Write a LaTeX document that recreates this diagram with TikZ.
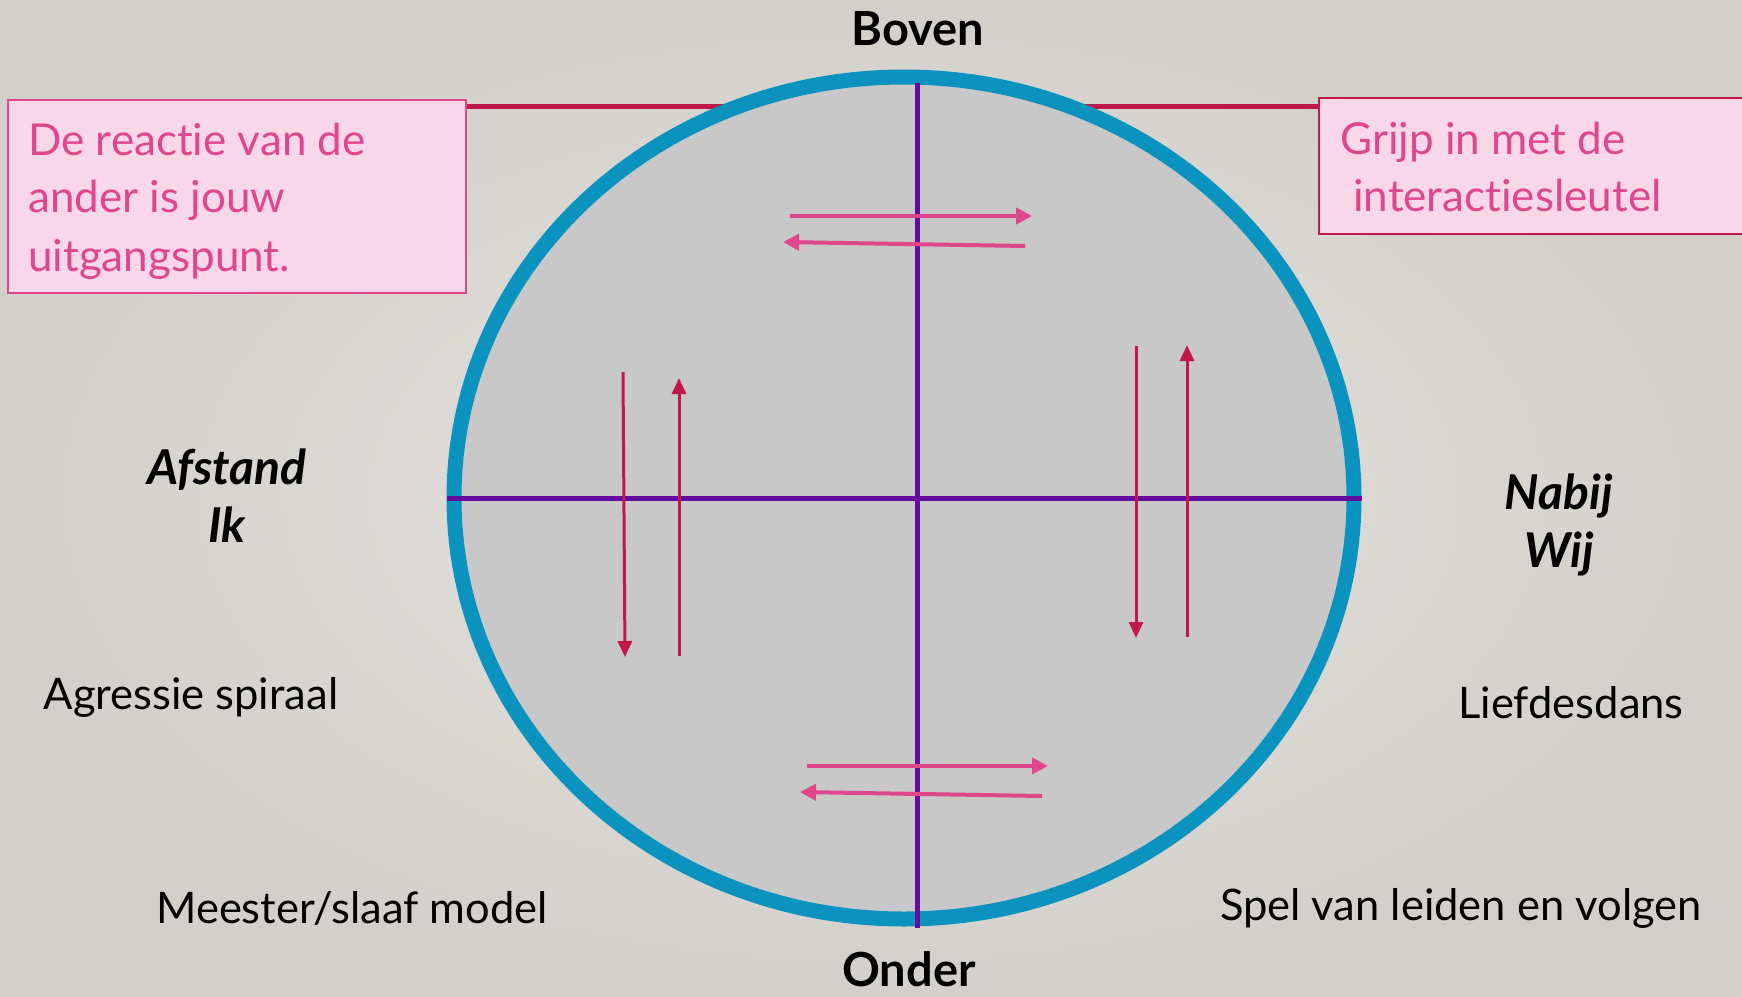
\documentclass[tikz,border=0pt]{standalone}
\usepackage{fontspec}
\setmainfont{Lato}[Ligatures={NoCommon}]
\usetikzlibrary{arrows.meta}
\definecolor{bgin}{HTML}{E6E4E1}
\definecolor{bgout}{HTML}{D3D0CB}
\definecolor{ringblue}{HTML}{0A93BF}
\definecolor{discgrey}{HTML}{C8C8C8}
\definecolor{axispurple}{HTML}{650CA0}
\definecolor{crimson}{HTML}{C0184A}
\definecolor{pinktext}{HTML}{E0468C}
\definecolor{pinkfill}{HTML}{F8D8E8}
\tikzset{
  boxtxt/.style={anchor=base west, inner sep=0pt, text=pinktext, font=\fontsize{44}{52}\selectfont},
  lbl/.style={anchor=base, inner sep=0pt, text=black, font=\fontsize{43.5}{50}\selectfont},
  dirlbl/.style={anchor=base, inner sep=0pt, text=black, font=\fontsize{47}{54}\selectfont\bfseries},
  sidelbl/.style={anchor=base, inner sep=0pt, text=black, font=\fontsize{48}{56}\selectfont\bfseries\itshape},
  pinkarrow/.style={draw=pinktext, line width=4pt, -{Triangle[length=16pt,width=16pt]}},
  redarrow/.style={draw=crimson, line width=3pt, -{Triangle[length=16pt,width=14pt]}},
  axis/.style={draw=axispurple, line width=5pt},
}
\begin{document}
\begin{tikzpicture}[x=1pt,y=-1pt]
\useasboundingbox (0,0) rectangle (1742,996);
\shade[inner color=bgin, outer color=bgout] (0,0) rectangle (1742,996);
% connecting line behind circle
\coordinate (lineL) at (465,106);
\coordinate (lineR) at (1318,106);
\draw[crimson, line width=5pt] (lineL) -- (lineR);
% disc
\coordinate (c) at (904,498);
\draw[fill=discgrey, draw=ringblue, line width=15pt] (c) ellipse [x radius=450, y radius=421];
% axes
\coordinate (vt) at (917,83);
\coordinate (vb) at (917,928);
\coordinate (hl) at (447,498);
\coordinate (hr) at (1362,498);
\draw[axis] (vt) -- (vb);
\draw[axis] (hl) -- (hr);
% top arrows
\coordinate (t1a) at (790,216);
\coordinate (t1b) at (1032,216);
\coordinate (t2a) at (1025,246);
\coordinate (t2b) at (783,242);
\draw[pinkarrow] (t1a) -- (t1b);
\draw[pinkarrow] (t2a) -- (t2b);
% bottom arrows
\coordinate (b1a) at (807,766);
\coordinate (b1b) at (1048,766);
\coordinate (b2a) at (1042,796);
\coordinate (b2b) at (800,792);
\draw[pinkarrow] (b1a) -- (b1b);
\draw[pinkarrow] (b2a) -- (b2b);
% left vertical arrows
\coordinate (l1a) at (623,372);
\coordinate (l1b) at (625,657);
\coordinate (l2a) at (679,656);
\coordinate (l2b) at (679,378);
\draw[redarrow] (l1a) -- (l1b);
\draw[redarrow] (l2a) -- (l2b);
% right vertical arrows
\coordinate (r1a) at (1136,346);
\coordinate (r1b) at (1136,638);
\coordinate (r2a) at (1187,637);
\coordinate (r2b) at (1187,345);
\draw[redarrow] (r1a) -- (r1b);
\draw[redarrow] (r2a) -- (r2b);
% boxes
\node[draw=pinktext, fill=pinkfill, line width=2pt, anchor=north west, minimum width=458pt, minimum height=193pt, inner sep=0pt] (boxL) at (7,99) {};
\node[draw=crimson, fill=pinkfill, line width=2pt, anchor=north west, minimum width=440pt, minimum height=136pt, inner sep=0pt] (boxR) at (1318,97) {};
\node[boxtxt] (bl1) at (28,155) {De reactie van de};
\node[boxtxt] (bl2) at (28,212) {ander is jouw};
\node[boxtxt] (bl3) at (28,271) {uitgangspunt.};
\node[boxtxt] (br1) at (1340,154) {Grijp in met de};
\node[boxtxt] (br2) at (1353,211) {interactiesleutel};
% direction labels
\node[dirlbl] (boven) at (918,45) {Boven};
\node[dirlbl] (onder) at (909,986) {Onder};
\node[sidelbl] (afstand) at (227,484) {Afstand};
\node[sidelbl] (ik) at (227,542) {Ik};
\node[sidelbl] (nabij) at (1559,509) {Nabij};
\node[sidelbl] (wij) at (1559,567) {Wij};
% quadrant labels
\node[lbl] (agr) at (191,709) {Agressie spiraal};
\node[lbl] (lief) at (1571,718) {Liefdesdans};
\node[lbl] (mees) at (352,923) {Meester/slaaf model};
\node[lbl] (spel) at (1461,920) {Spel van leiden en volgen};
\end{tikzpicture}
\end{document}
